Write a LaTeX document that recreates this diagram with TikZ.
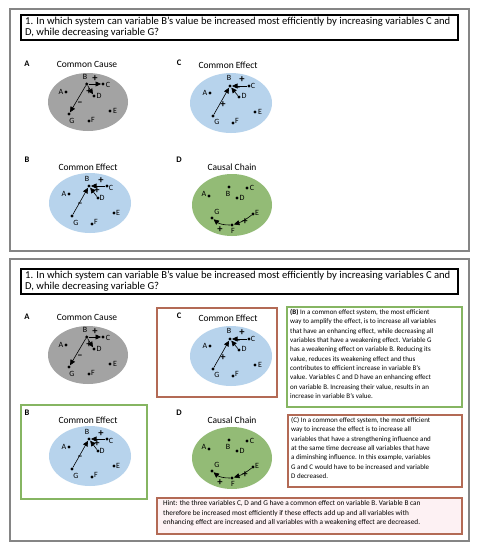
\documentclass[tikz,border=0pt]{standalone}
\usepackage{fontspec}
\setmainfont{Carlito}
\usetikzlibrary{arrows.meta}
\definecolor{panelgray}{HTML}{858585}
\definecolor{causegray}{HTML}{A3A3A3}
\definecolor{effblue}{HTML}{B7D3EC}
\definecolor{chaingreen}{HTML}{93BB76}
\definecolor{boxred}{HTML}{B36A55}
\definecolor{boxgreen}{HTML}{86B562}
\definecolor{hintpink}{HTML}{FDF1F3}
\newcommand\fourdiagrams[2]{%
\begin{scope}[yshift=#2]
% ---- A: common cause
\node[panlab] (#1pA) at (27,64) {A};
\node[dtitle] (#1tA) at (87,64) {Common Cause};
\fill[causegray] (88,102) ellipse [x radius=40pt, y radius=29pt];
\node[dot] (#1aB) at (86.7,84) {}; \node[lab] (#1aBl) at (85,77) {B};
\node[dot] (#1aC) at (103,84) {};  \node[lab] (#1aCl) at (108,85) {C};
\node[dot] (#1aD) at (94,96) {};   \node[lab] (#1aDl) at (99,96) {D};
\node[dot] (#1aA) at (66,92) {};   \node[lab] (#1aAl) at (61,92) {A};
\node[dot] (#1aG) at (69,114) {};  \node[lab] (#1aGl) at (72,121) {G};
\node[dot] (#1aF) at (89,121) {};  \node[lab] (#1aFl) at (93,120) {F};
\node[dot] (#1aE) at (110,111) {}; \node[lab] (#1aEl) at (115,111) {E};
\draw[arr] (#1aB) -- (#1aC);
\draw[arr] (#1aB) -- (#1aD);
\draw[arr] (#1aB) -- (#1aG);
\node[sgn] (#1as1) at (95,79) {+};
\node[sgn] (#1as2) at (89,92) {+};
\node[sgn] (#1as3) at (80,104) {–};
% ---- C: common effect (top right)
\node[panlab] (#1pC) at (179,63) {C};
\node[dtitle] (#1tC) at (228,65) {Common Effect};
\fill[effblue] (231,103) ellipse [x radius=41pt, y radius=30pt];
\node[dot] (#1cB) at (230,86) {};  \node[lab] (#1cBl) at (229,78) {B};
\node[dot] (#1cC) at (249,86) {};  \node[lab] (#1cCl) at (253,86) {C};
\node[dot] (#1cD) at (239,97) {};  \node[lab] (#1cDl) at (244,96) {D};
\node[dot] (#1cA) at (210,93) {};  \node[lab] (#1cAl) at (205,93) {A};
\node[dot] (#1cG) at (213,116) {}; \node[lab] (#1cGl) at (217,122) {G};
\node[dot] (#1cF) at (233,123) {}; \node[lab] (#1cFl) at (237,121) {F};
\node[dot] (#1cE) at (255,112) {}; \node[lab] (#1cEl) at (260,112) {E};
\draw[arr] (#1cC) -- (#1cB);
\draw[arr] (#1cD) -- (#1cB);
\draw[arr] (#1cG) -- (#1cB);
\node[sgn] (#1cs1) at (242,80) {+};
\node[sgn] (#1cs2) at (238,89) {–};
\node[sgn] (#1cs3) at (223,105) {+};
% ---- B: common effect (bottom left)
\node[panlab] (#1pB) at (27,160) {B};
\node[dtitle] (#1tB) at (88,167) {Common Effect};
\fill[effblue] (90,203) ellipse [x radius=41pt, y radius=30pt];
\node[dot] (#1bB) at (89,186) {};  \node[lab] (#1bBl) at (87,179) {B};
\node[dot] (#1bC) at (107,186) {}; \node[lab] (#1bCl) at (111,188) {C};
\node[dot] (#1bD) at (98,198) {};  \node[lab] (#1bDl) at (102,198) {D};
\node[dot] (#1bA) at (69,194) {};  \node[lab] (#1bAl) at (64,194) {A};
\node[dot] (#1bG) at (72,216) {};  \node[lab] (#1bGl) at (76,223) {G};
\node[dot] (#1bF) at (92,224) {};  \node[lab] (#1bFl) at (96,222) {F};
\node[dot] (#1bE) at (114,213) {}; \node[lab] (#1bEl) at (118,213) {E};
\draw[arr] (#1bC) -- (#1bB);
\draw[arr] (#1bD) -- (#1bB);
\draw[arr] (#1bG) -- (#1bB);
\node[sgn] (#1bs1) at (101,181) {+};
\node[sgn] (#1bs2) at (97,191) {+};
\node[sgn] (#1bs3) at (80,205) {–};
% ---- D: causal chain
\node[panlab] (#1pD) at (179,160) {D};
\node[dtitle] (#1tD) at (232,167) {Causal Chain};
\fill[chaingreen] (232,205) ellipse [x radius=40pt, y radius=31pt];
\node[dot] (#1dA) at (209,196) {}; \node[lab] (#1dAl) at (204,194) {A};
\node[dot] (#1dB) at (229,187) {}; \node[lab] (#1dBl) at (228,194) {B};
\node[dot] (#1dC) at (247,188) {}; \node[lab] (#1dCl) at (252,188) {C};
\node[dot] (#1dD) at (237,198) {}; \node[lab] (#1dDl) at (242,198) {D};
\node[dot] (#1dG) at (212,218) {}; \node[lab] (#1dGl) at (217,212) {G};
\node[dot] (#1dF) at (232,225) {}; \node[lab] (#1dFl) at (233,231) {F};
\node[dot] (#1dE) at (253,214) {}; \node[lab] (#1dEl) at (257,213) {E};
\draw[arr] (#1dE) to[bend left=10] (#1dF);
\draw[arr] (#1dF) to[bend left=20] (#1dG);
\node[sgn] (#1ds1) at (245,222) {+};
\node[sgn] (#1ds2) at (220,230) {+};
\end{scope}}
\begin{document}
\begin{tikzpicture}[x=1pt,y=-1pt,
  panel/.style={draw=panelgray,line width=2pt},
  qbox/.style={draw=black,line width=1.5pt,fill=white},
  qtext/.style={anchor=north west,inner sep=0pt,align=left,font=\fontsize{10.6}{10.3}\selectfont},
  panlab/.style={font=\fontsize{8.5}{9}\selectfont\bfseries,inner sep=0pt},
  dtitle/.style={font=\fontsize{9.5}{10}\selectfont,inner sep=0pt},
  dot/.style={circle,fill=black,inner sep=0pt,minimum size=3.2pt},
  lab/.style={font=\fontsize{8}{8}\selectfont,inner sep=0.5pt},
  sgn/.style={font=\fontsize{10.5}{10}\selectfont\bfseries,inner sep=0pt},
  arr/.style={-{Triangle[length=5.5pt,width=5pt]},line width=0.6pt,shorten >=0.2pt},
  btext/.style={anchor=north west,inner sep=0pt,align=left,font=\fontsize{7}{9.35}\selectfont},
  htext/.style={anchor=north west,inner sep=0pt,align=left,font=\fontsize{7.3}{9.5}\selectfont},
]
\useasboundingbox (0,0) rectangle (479,550);
\fill[white] (0,0) rectangle (479,550);
% ===== top panel
\draw[panel] (10,9) rectangle (469,251);
\draw[qbox] (21,15) rectangle (458,40);
\node[qtext] (q1) at (25,17.2) {1. In which system can variable B’s value be increased most efficiently by increasing variables C and\\D, while decreasing variable G?};
\fourdiagrams{u}{0pt}
% ===== bottom panel
\draw[panel] (10,259) rectangle (469,541);
\draw[qbox] (21,269) rectangle (458,294);
\node[qtext] (q2) at (25,271.2) {1. In which system can variable B’s value be increased most efficiently by increasing variables C and\\D, while decreasing variable G?};
\draw[boxred,line width=1.1pt] (157,308) rectangle (277,397);
\draw[boxgreen,line width=1.1pt] (21,405) rectangle (147,499);
\fourdiagrams{w}{-253pt}
\draw[boxgreen,line width=1.1pt] (287,307) rectangle (462,407);
\node[btext] (tB) at (290,309) {\textbf{(B)} In a common effect system, the most efficient\\way to amplify the effect, is to increase all variables\\that have an enhancing effect, while decreasing all\\variables that have a weakening effect. Variable G\\has a weakening effect on variable B. Reducing its\\value, reduces its weakening effect and thus\\contributes to efficient increase in variable B’s\\value. Variables C and D have an enhancing effect\\on variable B. Increasing their value, results in an\\increase in variable B’s value.};
\draw[boxred,line width=1.1pt] (288,415) rectangle (462,487);
\node[btext] (tC) at (291,417) {(C) In a common effect system, the most efficient\\way to increase the effect is to increase all\\variables that have a strengthening influence and\\at the same time decrease all variables that have\\a diminshing influence. In this example, variables\\G and C would have to be increased and variable\\D decreased.};
\draw[boxred,line width=1.1pt,fill=hintpink] (157,498) rectangle (462,534);
\node[htext] (tH) at (163,500.5) {Hint: the three variables C, D and G have a common effect on variable B. Variable B can\\therefore be increased most efficiently if these effects add up and all variables with\\enhancing effect are increased and all variables with a weakening effect are decreased.};
\end{tikzpicture}
\end{document}
